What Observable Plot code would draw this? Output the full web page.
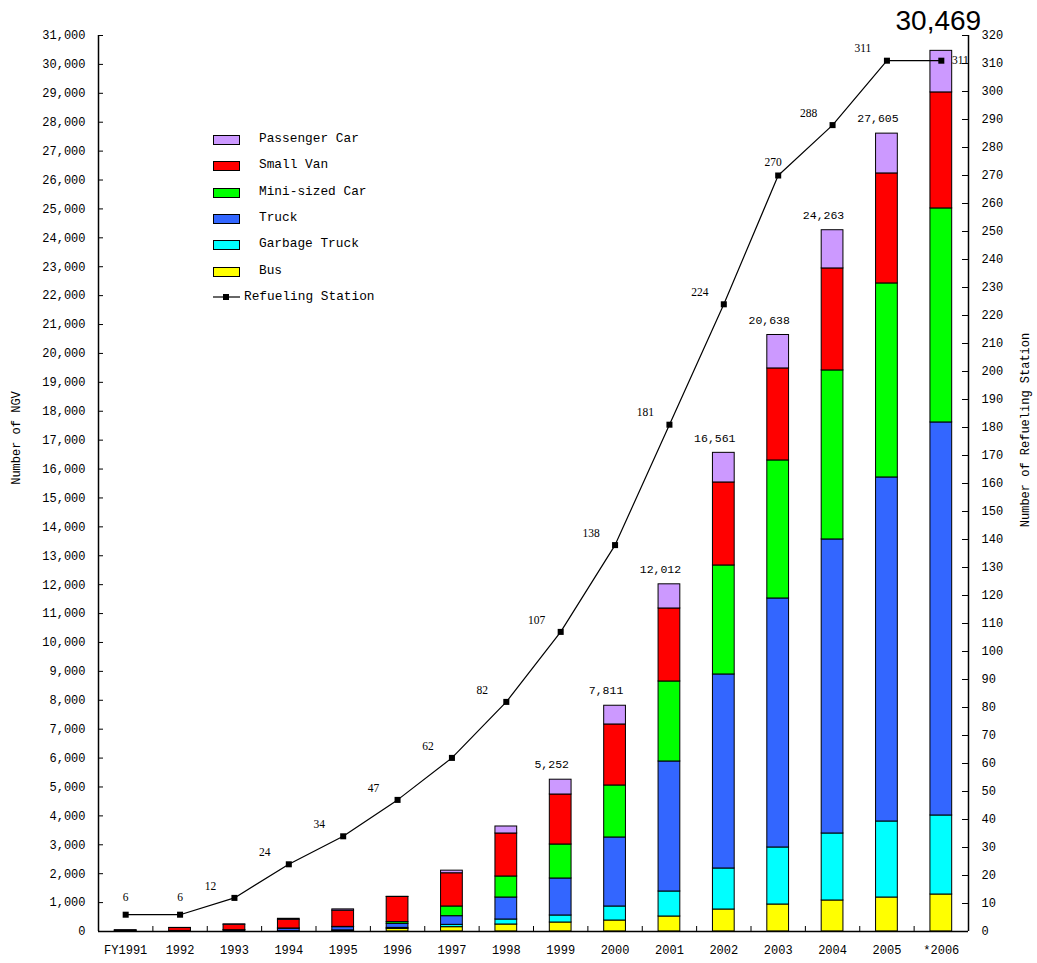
<!DOCTYPE html>
<html>
<head>
<meta charset="utf-8">
<script src="https://cdn.jsdelivr.net/npm/d3@7"></script>
<script src="https://cdn.jsdelivr.net/npm/@observablehq/plot@0.6"></script>
<style>
  html, body { margin: 0; padding: 0; background: #fff; }
  #wrap { position: relative; width: 1037px; height: 963px; background: #fff; font-family: "Liberation Mono", monospace; }
  .title { position: absolute; font-size: 12px; white-space: nowrap; transform: translate(-50%, -50%) rotate(-90deg); }
  #legend { position: absolute; left: 213px; top: 131px; font-size: 12.8px; }
  .row { position: absolute; left: 0; white-space: nowrap; height: 16px; }
  .sw { position: absolute; left: 0; top: 4px; width: 25px; height: 8px; border: 1px solid #000; }
  .lt { position: absolute; left: 46px; top: 0; line-height: 16px; }
</style>
</head>
<body>
<div id="wrap"></div>
<script>
const years = ["FY1991","1992","1993","1994","1995","1996","1997","1998","1999","2000","2001","2002","2003","2004","2005","*2006"];
const series = ["Bus","Garbage Truck","Truck","Mini-sized Car","Small Van","Passenger Car"];
const colors = ["#FFFF00","#00FFFF","#3366FF","#00FF00","#FF0000","#CC99FF"];
const bus        = [0, 0, 0, 5, 15, 90, 150, 242, 311, 380, 519, 761, 934, 1073, 1176, 1280];
const garbage    = [0, 0, 0, 5, 25, 35, 80, 173, 243, 485, 865, 1419, 1973, 2318, 2630, 2734];
const truck      = [10, 20, 40, 90, 110, 140, 300, 761, 1280, 2388, 4498, 6713, 8615, 10173, 11903, 13598];
const mini       = [0, 0, 5, 5, 10, 60, 335, 727, 1176, 1799, 2768, 3771, 4776, 5848, 6713, 7405];
const smallVan   = [25, 100, 190, 300, 560, 870, 1150, 1488, 1730, 2111, 2526, 2872, 3183, 3529, 3806, 4014];
const passenger  = [10, 5, 10, 35, 45, 5, 90, 242, 512, 648, 836, 1025, 1157, 1322, 1377, 1438];
const stations   = [6, 6, 12, 24, 34, 47, 62, 82, 107, 138, 181, 224, 270, 288, 311, 311];
const totalLabels = ["", "", "", "", "", "", "", "", "5,252", "7,811", "12,012", "16,561", "20,638", "24,263", "27,605", "30,469"];
const leftTicks = d3.range(0, 31001, 1000);
const rightTicks = d3.range(0, 321, 10);

const SCALE = 31000 / 320; // right axis maps onto left axis range
const valuesBySeries = [bus, garbage, truck, mini, smallVan, passenger];
const table = [];
series.forEach((s, si) => years.forEach((y, i) => table.push({year: y, series: s, value: valuesBySeries[si][i]})));
const totals = years.map((y, i) => d3.sum(valuesBySeries, a => a[i]));
const stationData = years.map((y, i) => ({year: y, i, st: stations[i], v: stations[i] * SCALE}));
const labelData = years.map((y, i) => ({year: y, total: totals[i], label: totalLabels[i]})).filter(d => d.label);

const W = 1037, H = 963, ML = 98, MR = 69, MT = 35, MB = 32;
const step = (W - ML - MR) / years.length;
const last = years.length - 1;

const stText = (filter, dx, dy) => Plot.text(stationData.filter(filter), {
  x: "year", y: "v", text: d => String(d.st), fontFamily: "Liberation Serif, serif", fontSize: 11.5, dx, dy
});

const chart = Plot.plot({
  width: W, height: H,
  marginLeft: ML, marginRight: MR, marginTop: MT, marginBottom: MB,
  style: {fontFamily: "Liberation Mono, monospace", fontSize: "12px", background: "#fff", overflow: "visible"},
  x: {type: "band", domain: years, paddingInner: 0.6, paddingOuter: 0.3, round: false},
  y: {domain: [0, 31000]},
  color: {domain: series, range: colors},
  marks: [
    Plot.barY(table, Plot.stackY({x: "year", y: "value", fill: "series", order: series, stroke: "#000", strokeWidth: 1})),
    Plot.line(stationData, {x: "year", y: "v", stroke: "#000", strokeWidth: 1.2}),
    Plot.dot(stationData, {x: "year", y: "v", symbol: "square", r: 3.4, fill: "#000", stroke: "none"}),
    stText(d => d.i < 2, 0, -17),
    stText(d => d.i === 12, -5, -13),
    stText(d => d.i === last, 19, 0),
    stText(d => d.i >= 2 && d.i !== 12 && d.i !== last, -24, -12),
    Plot.text(labelData.filter(d => d.year !== years[last]), {x: "year", y: "total", text: "label", dx: -9, dy: -15, fontSize: 11.5}),
    Plot.text(labelData.filter(d => d.year === years[last]), {x: "year", y: "total", text: "label", dx: -3, dy: -30,
      fontFamily: "Liberation Sans, Arial, sans-serif", fontSize: 28}),
    Plot.ruleY([0], {stroke: "#000", strokeWidth: 1.5}),
    Plot.tickX([years[0]], {x: d => d, dx: -step / 2, stroke: "#000", strokeWidth: 1.5}),
    Plot.tickX([years[last]], {x: d => d, dx: step / 2, stroke: "#000", strokeWidth: 1.5}),
    Plot.tickX(years.slice(0, -1), {x: d => d, dx: step / 2, insetTop: (H - MT - MB) - 5, stroke: "#000"}),
    Plot.tickY(leftTicks, {y: d => d, insetRight: (W - ML - MR) - 5, stroke: "#000"}),
    Plot.tickY(rightTicks, {y: d => d * SCALE, insetLeft: (W - ML - MR) - 6, stroke: "#000"}),
    Plot.axisY(leftTicks, {anchor: "left", tickSize: 0, tickPadding: 13, tickFormat: d3.format(","), label: null}),
    Plot.axisY(rightTicks.map(v => v * SCALE), {anchor: "right", tickSize: 0, tickPadding: 13, tickFormat: d => String(Math.round(d / SCALE)), label: null}),
    Plot.axisX({tickSize: 0, tickPadding: 14, label: null})
  ]
});

const wrap = document.getElementById("wrap");
wrap.appendChild(chart);

// axis titles
const t1 = document.createElement("div");
t1.className = "title"; t1.textContent = "Number of NGV";
t1.style.left = "17px"; t1.style.top = "438px";
wrap.appendChild(t1);
const t2 = document.createElement("div");
t2.className = "title"; t2.textContent = "Number of Refueling Station";
t2.style.left = "1026px"; t2.style.top = "430px";
wrap.appendChild(t2);

// legend
const legend = document.createElement("div");
legend.id = "legend";
const legendOrder = [5, 4, 3, 2, 1, 0];
legendOrder.forEach((si, r) => {
  const row = document.createElement("div");
  row.className = "row"; row.style.top = (r * 26.3) + "px";
  row.innerHTML = `<div class="sw" style="background:${colors[si]}"></div><div class="lt">${series[si]}</div>`;
  legend.appendChild(row);
});
const row = document.createElement("div");
row.className = "row"; row.style.top = (6 * 26.3) + "px";
row.innerHTML = `<svg width="32" height="16" style="position:absolute;left:0;top:0"><line x1="0" y1="8" x2="27" y2="8" stroke="#000" stroke-width="1.2"/><rect x="10" y="5" width="6" height="6" fill="#000"/></svg><div class="lt" style="left:31px">Refueling Station</div>`;
legend.appendChild(row);
wrap.appendChild(legend);
</script>
</body>
</html>
